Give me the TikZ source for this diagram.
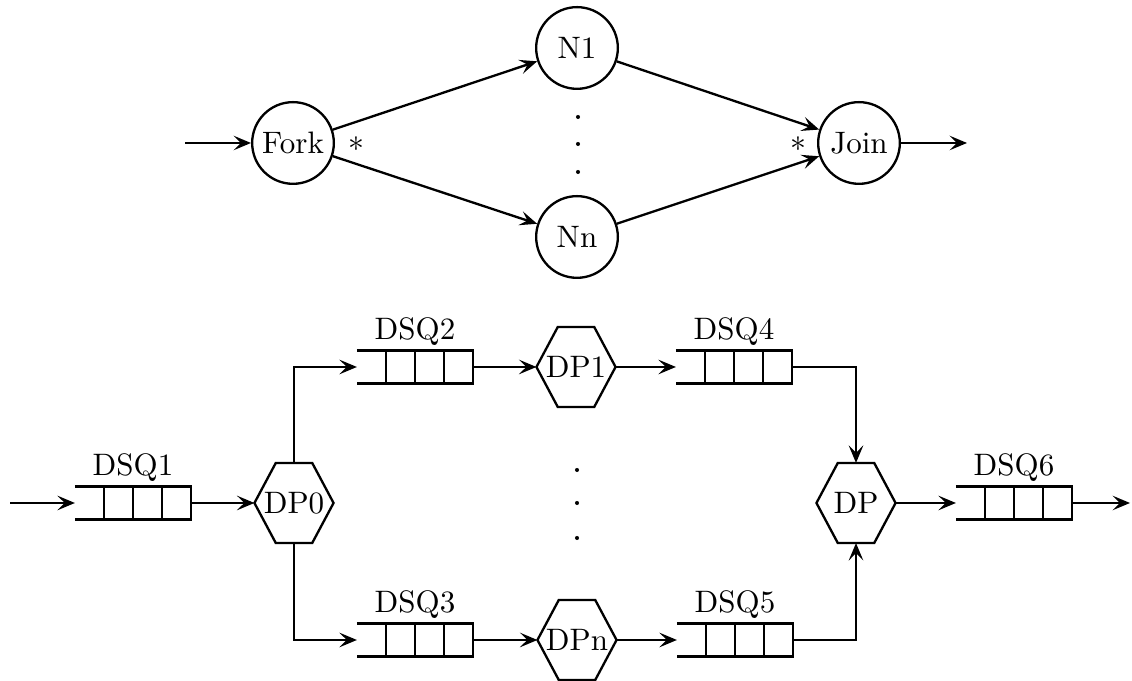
\documentclass[tikz,border=0pt]{standalone}
\usepackage{amsmath,amssymb}
\usetikzlibrary{arrows.meta,positioning,calc}

\tikzset{
  every node/.style={font=\fontsize{10.7pt}{13pt}\selectfont},
  proc/.style={circle, draw, thick, minimum size=0.99cm, inner sep=0pt},
  dpbox/.style={minimum width=0.945cm, minimum height=0.957cm, inner sep=0pt},
  qbox/.style={minimum width=1.394cm, minimum height=0.388cm, inner sep=0pt},
  qname/.style={above=0pt of #1, inner sep=1.5pt},
  flow/.style={-{Stealth[length=6pt,width=5pt,inset=2.5pt]}, thick},
}

% queue: name, position, label
\newcommand{\dsqueue}[3]{%
  \node[qbox] (#1) at (#2) {};
  \draw[thick] (#1.north west) -- (#1.north east) -- (#1.south east) -- (#1.south west);
  \foreach \f in {0.25,0.5,0.75}
    \draw[thick] ($(#1.north west)!\f!(#1.north east)$) -- ($(#1.south west)!\f!(#1.south east)$);
  \node[qname=#1] (#1lbl) {#3};
}

% hexagonal process: name, position, text
\newcommand{\dproc}[3]{%
  \node[dpbox] (#1) at (#2) {#3};
  \draw[thick] (#1.west) -- ($(#1.north west)!0.27!(#1.north east)$)
    -- ($(#1.north west)!0.73!(#1.north east)$) -- (#1.east)
    -- ($(#1.south west)!0.73!(#1.south east)$)
    -- ($(#1.south west)!0.27!(#1.south east)$) -- cycle;
}

\begin{document}
\begin{tikzpicture}[x=1.212cm, y=1.212cm]
\useasboundingbox (0,0) rectangle (11.32,6.81);

% fork/join network (top)
\node[proc] (fork) at (2.93,5.38) {Fork};
\node[proc] (n1) at (5.77,6.33) {N1};
\node[proc] (nn) at (5.77,4.44) {Nn};
\node[proc] (join) at (8.59,5.38) {Join};
\node (star1) at (3.56,5.37) {$*$};
\node (star2) at (7.98,5.37) {$*$};
\coordinate (in0) at (1.85,5.38);
\coordinate (out0) at (9.67,5.38);

\draw[flow] (in0) -- (fork);
\draw[flow] (fork) -- (n1);
\draw[flow] (fork) -- (nn);
\draw[flow] (n1) -- (join);
\draw[flow] (nn) -- (join);
\draw[flow] (join) -- (out0);
\foreach \y in {5.64,5.37,5.09}
  \fill (5.78,\y) circle (0.7pt);

% queues and processes (bottom)
\dsqueue{dsq1}{1.33,1.78}{DSQ1}
\dsqueue{dsq2}{4.15,3.14}{DSQ2}
\dsqueue{dsq3}{4.15,0.41}{DSQ3}
\dsqueue{dsq4}{7.34,3.14}{DSQ4}
\dsqueue{dsq5}{7.35,0.41}{DSQ5}
\dsqueue{dsq6}{10.14,1.78}{DSQ6}

\dproc{dp0}{2.94,1.78}{DP0}
\dproc{dp1}{5.76,3.14}{DP1}
\dproc{dpn}{5.77,0.41}{DPn}
\dproc{dp}{8.56,1.78}{DP}
\coordinate (in1) at (0.10,1.78);
\coordinate (out1) at (11.30,1.78);

\draw[flow] (in1) -- (dsq1.west);
\draw[flow] (dsq1) -- (dp0);
\draw[flow] (dp0.north) |- (dsq2.west);
\draw[flow] (dp0.south) |- (dsq3.west);
\draw[flow] (dsq2) -- (dp1);
\draw[flow] (dsq3) -- (dpn);
\draw[flow] (dp1) -- (dsq4.west);
\draw[flow] (dpn) -- (dsq5.west);
\draw[flow] (dsq4.east) -| (dp.north);
\draw[flow] (dsq5.east) -| (dp.south);
\draw[flow] (dp) -- (dsq6.west);
\draw[flow] (dsq6.east) -- (out1);
\foreach \y in {2.11,1.78,1.43}
  \fill (5.77,\y) circle (0.7pt);

\end{tikzpicture}
\end{document}
